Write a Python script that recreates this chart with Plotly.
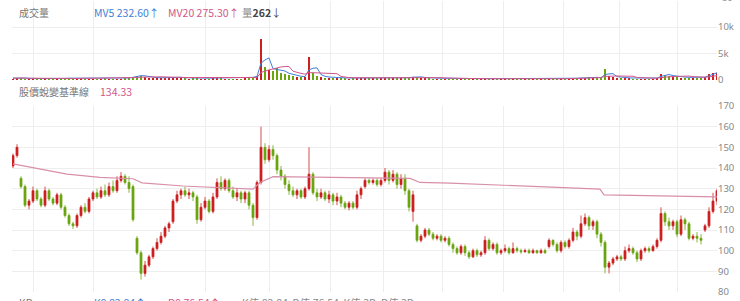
import plotly.graph_objects as go
import pandas as pd

# ---------------- data ----------------
opens = [141,146,135,131,122,124,129,125,122,129,
         125,123,127,121,117,113,112,117,121,119,
         125,128,126,129,127,131,129,134,136,133,
         131,106,99,89,93,97,101,104,107,111,
         114,124,127,129,127,128,126,115,121,124,
         119,126,133,130,134,129,126,128,125,128,
         122,116,133,150,144,149,146,139,136,132,
         129,127,129,126,130,137,128,126,128,125,
         127,124,126,123,121,123,121,127,131,134,
         133,134,132,134,138,134,137,132,135,129,
         119,112,105,107,110,108,106,107,105,106,
         103,101,99,102,99,97,100,98,99,105,
         101,103,99,100,101,99,101,100,99.5,100,
         99,100,99,100,102,105,103,100,104,102,
         105,109,107,113,116,112,114,108,104,92,
         94,96,97,96,100,101,99,96,100,101,
         100,102,105,118,114,112,114,108,115,113,
         106,107,106,110,112,119,124]
highs = [147,151.5,136,132,125,131,130,126,131,130,
         126,128,128,122,118,114,118,122,123,126,
         129,130,131,132,133,134,136,138,137,136,
         132,107,100,95,98,102,106,109,112,114,
         125,129,130,131,130,129,127,123,126,125,
         128,135,136,135,135,131,130,129,129,129,
         123,134,160,152,151,151,147,141,137,134,
         131,130,130,131,150,138,130,130,129,129,
         128,128,127,124,124,124,129,131,135,135,
         135,135,135,140,139,139,138,137,137,130,
         129,113,108,111,111,109,108,108,107,107,
         104,102,103,103,100,101,101,100,107,106,
         104,104,101,103,102,104,102,101,101,101,
         101,100.5,101,101,106,105.5,104,105,105,106,
         111,110,117,118,117,115,115,109,105,95,
         97,98,98,102,103,102,100,101,102,102,
         103,106,121,119,116,115,115,117,116,114,
         108,109,108,113,121,128,130]
lows = [140,145,130,121,120,123,124,121,121,124,
        122,122,120,116,112,110.5,111,116,118,118,
        124,125,125,126,126,128,128,133,132,128,
        114,98,86,87.5,92,96,100,103,106,109,
        113,123,125,126,125,124,113,114,120,118,
        118,125,129,129,128,125,124,123,123,120,
        112,115,132,142,143,144,137,134,130,127,
        126,125,125,125,129,127,124,125,124,123,
        122,122,121,120,119.5,120,120,125,130,132,
        132,131,131,133,132,133,130,130,127,119,
        114,104,104,106,107,105,105,104,104,102,
        99,98,98,97.5,96,96.5,97,97,98,100,
        100,98,98,99,98,98.5,99,98.5,99,98.5,
        98.5,98.5,98.5,98.5,101,102,99,99,101,101,
        104,105,106,112,110,110,106,102,89,89,
        93,95,95,95,99,98,94.5,95,99,99,
        99.5,101,104,112,110,110,106.5,107,110,105,
        105,104,103,109,111,118,122]
closes = [146,150,131,122,124,129,125,122,129,125,
          123,127,121,117,113,112,117,121,119,125,
          128,126,129,127,131,129,134,136,133,130,
          115,99,89,93,97,101,104,107,111,113,
          124,127,129,127,128,126,115,121,124,119,
          126,133,130,134,129,126,128,125,128,122,
          116,133,150,144,149,146,139,136,132,129,
          127,129,126,130,137,128,126,128,125,127,
          124,126,123,121,123,121,127,130,134,133,
          134,132,134,138,134,137,132,135,129,121,
          127,105,107,110,108,106,107,105,106,103,
          101,99,102,99,97,100,98,99,105,101,
          103,99,100,101,99,101,100,99.5,100,99,
          100,99,100,99,105,103,100,104,102,105,
          109,107,113,116,112,114,108,104,92,94,
          96,97,96,100,101,99,96,100,101,100,
          102,105,118,114,112,114,108,115,113,106,
          107,106,105,112,119,124,129]
volumes = [350,420,380,300,260,240,280,310,260,230,
           250,270,300,340,380,320,280,300,350,330,
           290,310,360,380,340,300,320,350,400,420,
           700,900,850,600,500,450,400,420,500,550,
           650,480,420,380,360,400,380,350,330,360,
           380,420,400,370,350,330,340,360,380,420,
           700,900,7900,2600,2000,1800,2300,1500,1300,1000,
           800,700,600,650,4500,1500,900,650,550,500,
           450,420,400,380,360,400,380,420,500,460,
           420,400,380,420,450,420,400,380,420,500,
           700,600,450,400,380,350,330,320,300,300,
           280,270,260,250,250,240,240,230,230,240,
           260,250,240,230,220,220,210,210,200,200,
           200,200,200,200,200,300,280,260,270,300,
           320,380,420,500,600,480,420,450,2200,800,
           600,500,450,400,380,360,350,340,330,340,
           360,400,1300,1000,800,700,600,550,500,480,
           460,440,450,700,1200,1400,1500]
# baseline ("股價蛻變基準線") breakpoints: candle index -> value
base_idx = [0, 13.5, 21.75, 30, 32.25, 42.5, 60, 61.75, 65, 84.25, 99.25, 101.75, 109.25, 146.75, 147.75, 176]
base_val = [142, 137, 135.5, 134.8, 132.8, 131.3, 129.8, 133, 135.8, 135.5, 135, 133, 132.7, 129.8, 127, 126]
grid_idx = [5, 20, 48, 64, 79.25, 92.5, 107.25, 122.5, 137.5, 151.5, 166]
price_ticks = [80, 90, 100, 110, 120, 130, 140, 150, 160, 170]
vol_ticks = [0, 5000, 10000, 15000]
vol_ticktext = ["0", "5k", "10k", ""]

# ---------------- style ----------------
RED = "#cc1f1f"
GREEN = "#6aa50f"
BASE_PINK = "#d98fab"
MV5_BLUE = "#3f80d8"
MV20_PINK = "#d2568a"
GRID = "#eeeeee"
W, H = 740, 301
L, R = 12, 23
PW = W - L - R

idx = list(range(len(closes)))
vol_colors = [RED if c >= o else GREEN for o, c in zip(opens, closes)]
vs = pd.Series(volumes, dtype=float)
mv5 = vs.rolling(3, min_periods=1).mean().tolist()
mv20 = vs.rolling(8, min_periods=1).mean().tolist()

fig = go.Figure()
fig.add_trace(go.Candlestick(
    x=idx, open=opens, high=highs, low=lows, close=closes,
    xaxis="x", yaxis="y", whiskerwidth=0,
    increasing=dict(line=dict(color=RED, width=0.8), fillcolor=RED),
    decreasing=dict(line=dict(color=GREEN, width=0.8), fillcolor=GREEN),
    showlegend=False, hoverinfo="skip"))
fig.add_trace(go.Scatter(x=base_idx, y=base_val, mode="lines",
                         line=dict(color=BASE_PINK, width=1.2),
                         xaxis="x", yaxis="y", showlegend=False, hoverinfo="skip"))
fig.add_trace(go.Bar(x=idx, y=volumes, marker=dict(color=vol_colors, line=dict(width=0)),
                     width=0.5, xaxis="x2", yaxis="y2", showlegend=False, hoverinfo="skip"))
fig.add_trace(go.Scatter(x=idx, y=mv5, mode="lines", line=dict(color=MV5_BLUE, width=1),
                         xaxis="x2", yaxis="y2", showlegend=False, hoverinfo="skip"))
fig.add_trace(go.Scatter(x=idx, y=mv20, mode="lines", line=dict(color=MV20_PINK, width=1),
                         xaxis="x2", yaxis="y2", showlegend=False, hoverinfo="skip"))

def py(p):
    return 1 - p / H

def px(p):
    return (p - L) / PW

tickfont = dict(family="Noto Sans, Roboto, sans-serif", size=9.5, color="#888888")
xcommon = dict(range=[-0.25, 176], tickvals=grid_idx, showticklabels=False, showgrid=True,
               gridcolor=GRID, gridwidth=1, zeroline=False, showline=False, ticks="",
               fixedrange=True, automargin=False)
fig.update_layout(
    width=W, height=H, margin=dict(l=L, r=R, t=0, b=0),
    template="none", paper_bgcolor="white", plot_bgcolor="white",
    showlegend=False, bargap=0,
    xaxis=dict(domain=[0, 1], anchor="y", rangeslider=dict(visible=False), **xcommon),
    xaxis2=dict(domain=[0, 1], anchor="y2", matches="x", **xcommon),
    yaxis=dict(domain=[py(292), py(106)], range=[80, 170], side="right", tickvals=price_ticks,
               showgrid=True, gridcolor=GRID, zeroline=False, showline=False,
               ticks="", tickfont=tickfont, automargin=False, fixedrange=True),
    yaxis2=dict(domain=[py(80), py(0.5)], range=[0, 15000], side="right", tickvals=vol_ticks,
                ticktext=vol_ticktext, showgrid=True, gridcolor=GRID, zeroline=False,
                showline=False, ticks="", tickfont=tickfont, automargin=False, fixedrange=True),
)

cjk = "Noto Sans CJK TC, Noto Sans, sans-serif"
def ann(text, x, y, color, size=10.5, family=cjk):
    fig.add_annotation(text=text, x=px(x), y=py(y), xref="paper", yref="paper",
                       xanchor="left", yanchor="middle", showarrow=False,
                       font=dict(family=family, size=size, color=color))

ann("成交量", 17, 13, "#777777", 10)
ann("MV5 232.60↑", 92, 13, MV5_BLUE, 10.5)
ann("MV20 275.30↑", 166, 13, MV20_PINK, 10.5)
ann("<span style='color:#888'>量</span><b>262</b>↓", 240, 13, "#444444", 10.5)
ann("股價蛻變基準線", 17, 91, "#777777", 10)
ann("134.33", 98, 91, MV20_PINK, 10.5)
# top label cut off by the window edge
ann("30", 720, -3, "#888888", 9.5)
# legend row of the next panel, cut off at the bottom edge
ann("KD", 17, 302.5, "#777777", 10.5)
ann("K9 82.84↑", 92, 302.5, MV5_BLUE, 10.5)
ann("D9 76.54↑", 166, 302.5, MV20_PINK, 10.5)
ann("K值 82.84  D值 76.54  K值 3D  D值 3D", 240, 302.5, "#888888", 10.5)

fig.write_html("out.html")
